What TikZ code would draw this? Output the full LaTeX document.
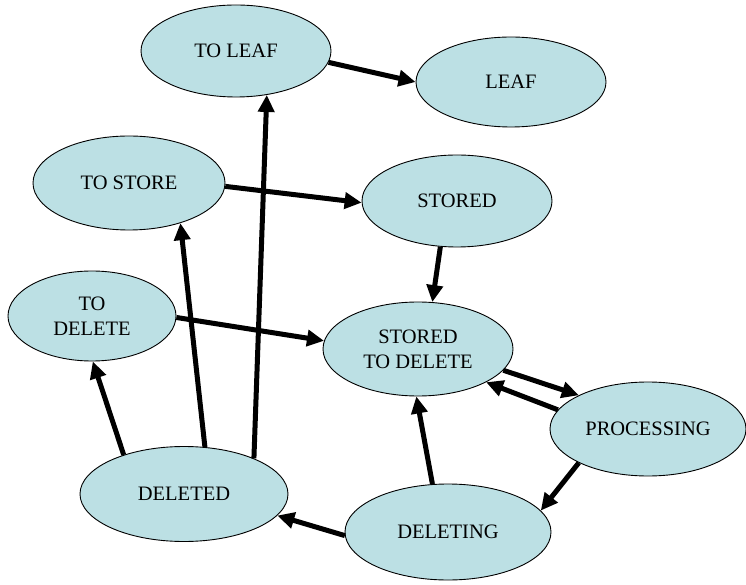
\documentclass[tikz,border=0pt]{standalone}
\usepackage{fontspec}
\setmainfont{Liberation Serif}
\usetikzlibrary{shapes.geometric,arrows.meta}
\definecolor{statefill}{RGB}{188,224,228}
\begin{document}
\begin{tikzpicture}[x=1pt,y=1pt,
  state/.style={ellipse,draw=black,line width=0.9pt,fill=statefill,inner sep=0pt,
    align=center,font=\fontsize{20.5}{25}\selectfont},
  conn/.style={line width=5pt,-{Triangle[length=17pt,width=16pt]}}]
\useasboundingbox (0,0) rectangle (746,584);
\node[state,minimum width=190,minimum height=92] (toleaf) at (236,533) {TO LEAF};
\node[state,minimum width=190,minimum height=90] (leaf) at (511,502) {LEAF};
\node[state,minimum width=192,minimum height=94] (tostore) at (129,401) {TO STORE};
\node[state,minimum width=190,minimum height=92] (stored) at (457,383) {STORED};
\node[state,minimum width=168,minimum height=90] (todelete) at (92,268) {TO\\DELETE};
\node[state,minimum width=190,minimum height=94] (std) at (418,235) {STORED\\TO DELETE};
\node[state,minimum width=196,minimum height=94] (proc) at (648,155) {PROCESSING};
\node[state,minimum width=208,minimum height=95] (deleted) at (184,90) {DELETED};
\node[state,minimum width=206,minimum height=96] (deleting) at (448,52) {DELETING};
\draw[conn] (toleaf.-7) -- (leaf.180);
\draw[conn] (tostore.-2) -- (stored.181);
\draw[conn] (stored.250) -- (std.73);
\draw[conn] (todelete.-1) -- (std.175);
\draw[conn] (std.-14) -- (proc.154);
\draw[conn] (proc.168) -- (std.-26);
\draw[conn] (proc.206) -- (deleting.13);
\draw[conn] (deleting.108) -- (std.268);
\draw[conn] (deleting.182) -- (deleted.-13);
\draw[conn] (deleted.147) -- (todelete.271);
\draw[conn] (deleted.66) -- (tostore.-38);
\draw[conn] (deleted.27) -- (toleaf.-55);
\end{tikzpicture}
\end{document}
